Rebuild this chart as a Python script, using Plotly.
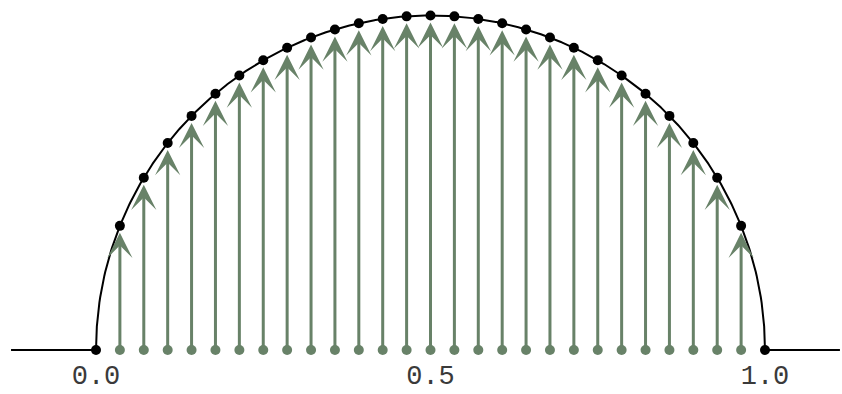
import numpy as np
import plotly.graph_objects as go

# sample positions along [0, 1]
n_steps = 28
xs = [k / n_steps for k in range(n_steps + 1)]
# semicircle height y = sqrt(x(1-x))
ys = [float(np.sqrt(x * (1 - x))) for x in xs]

# extent of the flat baseline on each side
x_left, x_right = -0.127, 1.112
tick_vals = [0.0, 0.5, 1.0]
tick_text = ["0.0", "0.5", "1.0"]

green = "#688268"

# continuous curve: flat, semicircle, flat
xc = np.linspace(0, 1, 801)
curve_x = [x_left] + list(xc) + [x_right]
curve_y = [0.0] + list(np.sqrt(np.clip(xc * (1 - xc), 0, None))) + [0.0]

fig = go.Figure()
fig.add_trace(go.Scatter(x=curve_x, y=curve_y, mode="lines", cliponaxis=False,
                         line=dict(color="black", width=2), hoverinfo="skip"))
fig.add_trace(go.Scatter(x=xs[1:-1], y=[0] * (len(xs) - 2), mode="markers",
                         cliponaxis=False,
                         marker=dict(color=green, size=10), hoverinfo="skip"))
fig.add_trace(go.Scatter(x=xs, y=ys, mode="markers", cliponaxis=False,
                         marker=dict(color="black", size=10), hoverinfo="skip"))

for x, y in zip(xs[1:-1], ys[1:-1]):
    fig.add_annotation(x=x, y=y, ax=x, ay=0, xref="x", yref="y",
                       axref="x", ayref="y", showarrow=True, text="",
                       arrowhead=3, arrowwidth=3, arrowsize=1.4,
                       arrowcolor=green, standoff=7, startstandoff=0)

px_per_unit = 669.0
fig.update_layout(
    width=842, height=394,
    margin=dict(l=0, r=0, t=0, b=40),
    plot_bgcolor="white", paper_bgcolor="white",
    showlegend=False,
    xaxis=dict(range=[-96 / px_per_unit, 746 / px_per_unit], showgrid=False,
               zeroline=False, showline=False, tickvals=tick_vals,
               ticktext=tick_text, ticks="", automargin=False,
               tickfont=dict(family="Liberation Mono", size=27, color="#3a3a3a"),
               ticklabelstandoff=2),
    yaxis=dict(range=[-4 / px_per_unit, 350 / px_per_unit], showgrid=False,
               zeroline=False, showline=False, showticklabels=False, ticks="",
               automargin=False),
)

fig.write_html("out.html")
